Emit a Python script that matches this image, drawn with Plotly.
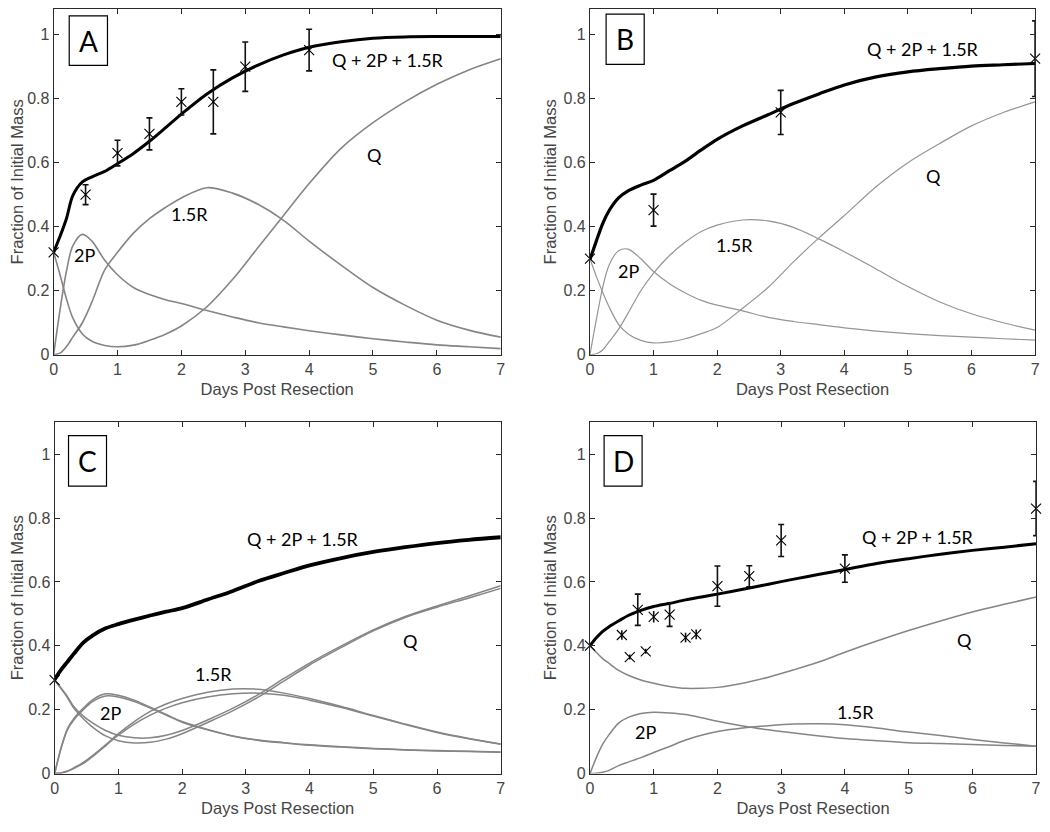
import plotly.graph_objects as go

# ---------------- data ----------------
days = [0, 0.1, 0.2, 0.3, 0.45, 0.6, 0.8, 1.0, 1.25, 1.5, 1.75, 2.0, 2.4, 2.8,
        3.2, 3.6, 4.0, 4.5, 5.0, 5.5, 6.0, 6.5, 7.0]

# Panel A
A_total = [0.32, 0.37, 0.425, 0.497, 0.54, 0.556, 0.573, 0.597, 0.629, 0.667, 0.709, 0.752,
           0.815, 0.865, 0.905, 0.937, 0.961, 0.978, 0.989, 0.993, 0.994, 0.994, 0.994]
A_Q = [0.32, 0.25, 0.175, 0.115, 0.065, 0.042, 0.029, 0.025, 0.03, 0.045, 0.064, 0.09,
       0.15, 0.235, 0.335, 0.435, 0.535, 0.645, 0.725, 0.79, 0.845, 0.89, 0.925]
A_2P = [0, 0.14, 0.26, 0.34, 0.376, 0.355, 0.295, 0.25, 0.21, 0.188, 0.172, 0.16,
        0.138, 0.118, 0.1, 0.087, 0.075, 0.062, 0.05, 0.04, 0.031, 0.025, 0.019]
A_15R = [0, 0.005, 0.025, 0.055, 0.1, 0.165, 0.265, 0.32, 0.38, 0.425, 0.46, 0.49,
         0.522, 0.505, 0.47, 0.42, 0.355, 0.28, 0.21, 0.155, 0.108, 0.077, 0.055]
A_obs_x = [0, 0.5, 1, 1.5, 2, 2.5, 3, 4]
A_obs_y = [0.32, 0.50, 0.63, 0.69, 0.79, 0.79, 0.90, 0.952]
A_obs_err = [0, 0.031, 0.04, 0.05, 0.041, 0.10, 0.077, 0.065]

# Panel B
B_total = [0.298, 0.355, 0.41, 0.45, 0.49, 0.512, 0.53, 0.545, 0.575, 0.605, 0.64, 0.673,
           0.715, 0.75, 0.785, 0.815, 0.843, 0.868, 0.884, 0.894, 0.902, 0.906, 0.91]
B_Q = [0.3, 0.245, 0.195, 0.15, 0.095, 0.065, 0.045, 0.037, 0.04, 0.05, 0.066, 0.085,
       0.145, 0.21, 0.29, 0.365, 0.435, 0.525, 0.6, 0.66, 0.715, 0.757, 0.79]
B_2P = [0, 0.11, 0.21, 0.28, 0.325, 0.33, 0.3, 0.26, 0.222, 0.193, 0.17, 0.155,
        0.137, 0.117, 0.104, 0.094, 0.084, 0.074, 0.066, 0.06, 0.055, 0.05, 0.046]
B_15R = [0, 0.003, 0.015, 0.04, 0.08, 0.13, 0.2, 0.255, 0.31, 0.352, 0.385, 0.405,
         0.421, 0.418, 0.398, 0.362, 0.322, 0.268, 0.213, 0.165, 0.128, 0.1, 0.077]
B_obs_x = [0, 1, 3, 7]
B_obs_y = [0.30, 0.452, 0.757, 0.925]
B_obs_err = [0, 0.05, 0.069, 0.118]

# Panel C (two fits drawn for each component)
C_total = [0.295, 0.325, 0.35, 0.375, 0.41, 0.433, 0.455, 0.468, 0.482, 0.495, 0.507, 0.518,
           0.545, 0.572, 0.603, 0.628, 0.652, 0.675, 0.694, 0.709, 0.722, 0.732, 0.74]
C_Q_a = [0.293, 0.268, 0.242, 0.21, 0.18, 0.158, 0.135, 0.12, 0.112, 0.112, 0.12, 0.135,
         0.168, 0.205, 0.248, 0.298, 0.346, 0.4, 0.45, 0.492, 0.525, 0.556, 0.588]
C_Q_b = [0.293, 0.266, 0.238, 0.205, 0.172, 0.145, 0.118, 0.103, 0.096, 0.098, 0.108, 0.125,
         0.16, 0.197, 0.24, 0.29, 0.34, 0.395, 0.447, 0.489, 0.521, 0.55, 0.58]
C_2P_a = [0, 0.08, 0.14, 0.172, 0.205, 0.232, 0.25, 0.245, 0.23, 0.208, 0.185, 0.163,
          0.138, 0.118, 0.105, 0.097, 0.09, 0.084, 0.079, 0.075, 0.072, 0.07, 0.068]
C_2P_b = [0, 0.078, 0.137, 0.168, 0.2, 0.226, 0.243, 0.24, 0.226, 0.205, 0.183, 0.161,
          0.137, 0.117, 0.104, 0.096, 0.089, 0.083, 0.078, 0.074, 0.071, 0.069, 0.067]
C_15R_a = [0, 0.002, 0.008, 0.018, 0.035, 0.057, 0.09, 0.125, 0.163, 0.195, 0.218, 0.235,
           0.255, 0.265, 0.264, 0.252, 0.235, 0.21, 0.182, 0.155, 0.13, 0.11, 0.093]
C_15R_b = [0, 0.002, 0.007, 0.016, 0.032, 0.054, 0.087, 0.12, 0.155, 0.183, 0.205, 0.222,
           0.24, 0.25, 0.252, 0.245, 0.23, 0.207, 0.18, 0.154, 0.129, 0.109, 0.092]
C_obs_x = [0]
C_obs_y = [0.293]
C_obs_err = [0]

# Panel D
D_total = [0.4, 0.425, 0.445, 0.46, 0.478, 0.495, 0.511, 0.523, 0.533, 0.544, 0.553, 0.562,
           0.577, 0.593, 0.609, 0.624, 0.639, 0.658, 0.673, 0.687, 0.699, 0.709, 0.72]
D_Q = [0.4, 0.38, 0.36, 0.345, 0.323, 0.308, 0.293, 0.283, 0.273, 0.267, 0.267, 0.27,
       0.283, 0.302, 0.325, 0.35, 0.38, 0.415, 0.448, 0.478, 0.506, 0.53, 0.553]
D_2P = [0, 0.05, 0.092, 0.122, 0.158, 0.176, 0.188, 0.192, 0.19, 0.185, 0.175, 0.164,
        0.149, 0.137, 0.127, 0.118, 0.11, 0.103, 0.097, 0.094, 0.091, 0.088, 0.086]
D_15R = [0, 0.001, 0.004, 0.01, 0.025, 0.036, 0.05, 0.066, 0.085, 0.105, 0.12, 0.132,
         0.143, 0.15, 0.155, 0.156, 0.153, 0.143, 0.13, 0.119, 0.107, 0.096, 0.086]
D_obs_x = [0, 0.5, 0.625, 0.75, 0.875, 1.0, 1.25, 1.5, 1.667, 2, 2.5, 3, 4, 7]
D_obs_y = [0.401, 0.434, 0.365, 0.513, 0.383, 0.491, 0.498, 0.426, 0.436, 0.587, 0.618,
           0.73, 0.642, 0.83]
D_obs_err = [0, 0.015, 0.008, 0.049, 0.008, 0.018, 0.037, 0.015, 0.015, 0.063, 0.033,
             0.05, 0.043, 0.085]

x_ticks = [0, 1, 2, 3, 4, 5, 6, 7]
y_ticks = [0, 0.2, 0.4, 0.6, 0.8, 1.0]
y_ticktext = ["0", "0.2", "0.4", "0.6", "0.8", "1"]
panel_letters = ["A", "B", "C", "D"]
curve_labels = ["Q + 2P + 1.5R", "Q", "1.5R", "2P"]

# label positions (axis units) for each panel: total, Q, 1.5R, 2P
label_pos = {
    "A": [(5.23, 0.92), (5.02, 0.623), (2.12, 0.441), (0.49, 0.312)],
    "B": [(5.23, 0.956), (5.4, 0.56), (2.27, 0.344), (0.6, 0.262)],
    "C": [(3.9, 0.735), (5.59, 0.415), (2.5, 0.312), (0.876, 0.189)],
    "D": [(5.15, 0.742), (5.87, 0.418), (4.16, 0.192), (0.87, 0.13)],
}
letter_box = {
    "A": (0.244, 0.843, 0.904, 1.059),
    "B": (0.254, 0.853, 0.907, 1.064),
    "C": (0.218, 0.814, 0.900, 1.058),
    "D": (0.222, 0.818, 0.900, 1.058),
}

# ---------------- figure ----------------
# the page body adds an 8px margin, so the figure is drawn 8px smaller and shifted
OFF = 8
W, H = 1050 - OFF, 832 - OFF
panels_px = {  # left, right, top, bottom, pixel of y=1 (window pixels)
    "A": (50, 501, 3, 358, 34),
    "B": (591, 1040, 3, 358, 34),
    "C": (51, 501, 426, 782, 458.7),
    "D": (591, 1041, 426, 782, 458.7),
}

AXC = "#2a2a2a"
TICKF = dict(family="Liberation Sans, Arial, sans-serif", size=16, color="#454545")
TITLEF = dict(family="Liberation Sans, Arial, sans-serif", size=16.5, color="#454545")
LABF = dict(family="Lato, Open Sans, sans-serif", size=18, color="black")

fig = go.Figure()

panel_data = {
    "A": dict(total=A_total, comps=[[A_Q], [A_2P], [A_15R]], ox=A_obs_x, oy=A_obs_y, oe=A_obs_err, gw=1.6, bw=3.0, gc="#858585"),
    "B": dict(total=B_total, comps=[[B_Q], [B_2P], [B_15R]], ox=B_obs_x, oy=B_obs_y, oe=B_obs_err, gw=1.2, bw=3.2, gc="#959595"),
    "C": dict(total=C_total, comps=[[C_Q_a, C_Q_b], [C_2P_a, C_2P_b], [C_15R_a, C_15R_b]], ox=C_obs_x, oy=C_obs_y, oe=C_obs_err, gw=1.5, bw=3.8, gc="#858585"),
    "D": dict(total=D_total, comps=[[D_Q], [D_2P], [D_15R]], ox=D_obs_x, oy=D_obs_y, oe=D_obs_err, gw=1.5, bw=3.0, gc="#858585"),
}

shapes = []
annotations = []
for i, key in enumerate(panel_letters):
    n = "" if i == 0 else str(i + 1)
    xa, ya = "x" + n, "y" + n
    l, r, t, b, y1px = [v - OFF for v in panels_px[key]]
    t_clip = max(t, 0)
    ytop = (b - t_clip) / (b - y1px)  # keep the reference's vertical scale
    fig.layout["xaxis" + n] = dict(
        domain=[l / W, min(r / W, 1)], anchor=ya, range=[0, 7], tickvals=x_ticks,
        showline=True, mirror="ticks", linecolor=AXC, linewidth=1,
        ticks="inside", ticklen=5, tickcolor=AXC, showgrid=False, zeroline=False,
        ticklabeloverflow="allow",
        tickfont=TICKF, title=dict(text="Days Post Resection", font=TITLEF, standoff=6),
    )
    fig.layout["yaxis" + n] = dict(
        domain=[1 - b / H, 1 - t_clip / H], anchor=xa, range=[0, ytop],
        tickvals=y_ticks, ticktext=y_ticktext,
        showline=True, mirror="ticks", linecolor=AXC, linewidth=1,
        ticks="inside", ticklen=5, tickcolor=AXC, showgrid=False, zeroline=False,
        ticklabeloverflow="allow",
        tickfont=TICKF, title=dict(text="Fraction of Initial Mass", font=TITLEF, standoff=2),
    )
    d = panel_data[key]
    for group in d["comps"]:
        for ys in group:
            fig.add_trace(go.Scatter(x=days, y=ys, mode="lines", xaxis=xa, yaxis=ya,
                                     line=dict(color=d["gc"], width=d["gw"], shape="spline", smoothing=0.9),
                                     showlegend=False, hoverinfo="skip"))
    fig.add_trace(go.Scatter(x=days, y=d["total"], mode="lines", xaxis=xa, yaxis=ya,
                             line=dict(color="black", width=d["bw"], shape="spline", smoothing=0.9),
                             showlegend=False))
    # observations: large error bars drawn with caps, tiny ones without
    big = [j for j, e in enumerate(d["oe"]) if e >= 0.03]
    small = [j for j, e in enumerate(d["oe"]) if e < 0.03]
    for idx, cap in ((big, 3), (small, 0)):
        if not idx:
            continue
        fig.add_trace(go.Scatter(x=[d["ox"][j] for j in idx], y=[d["oy"][j] for j in idx],
                                 mode="markers", xaxis=xa, yaxis=ya,
                                 marker=dict(symbol="x-thin-open", size=10, color="black",
                                             line=dict(color="#111", width=1.1)),
                                 error_y=dict(type="data", array=[d["oe"][j] for j in idx], visible=True,
                                              color="#111", thickness=1.6, width=cap),
                                 cliponaxis=False, showlegend=False))
    for txt, (px_, py_) in zip(curve_labels, label_pos[key]):
        annotations.append(dict(x=px_, y=py_, xref=xa, yref=ya, text=txt, showarrow=False,
                                font=LABF, xanchor="center", yanchor="middle"))
    x0, x1, y0, y1 = letter_box[key]
    shapes.append(dict(type="rect", xref=xa, yref=ya, x0=x0, x1=x1, y0=y0, y1=y1,
                       line=dict(color="black", width=1.2), fillcolor="white", layer="above"))
    annotations.append(dict(x=(x0 + x1) / 2, y=(y0 + y1) / 2, xref=xa, yref=ya, text=key,
                            showarrow=False, xanchor="center", yanchor="middle",
                            font=dict(family="Lato, Open Sans, sans-serif", size=28, color="black")))

fig.update_layout(width=W, height=H, margin=dict(l=0, r=0, t=0, b=0),
                  paper_bgcolor="white", plot_bgcolor="white",
                  shapes=shapes, annotations=annotations, showlegend=False)

fig.write_html("out.html")
